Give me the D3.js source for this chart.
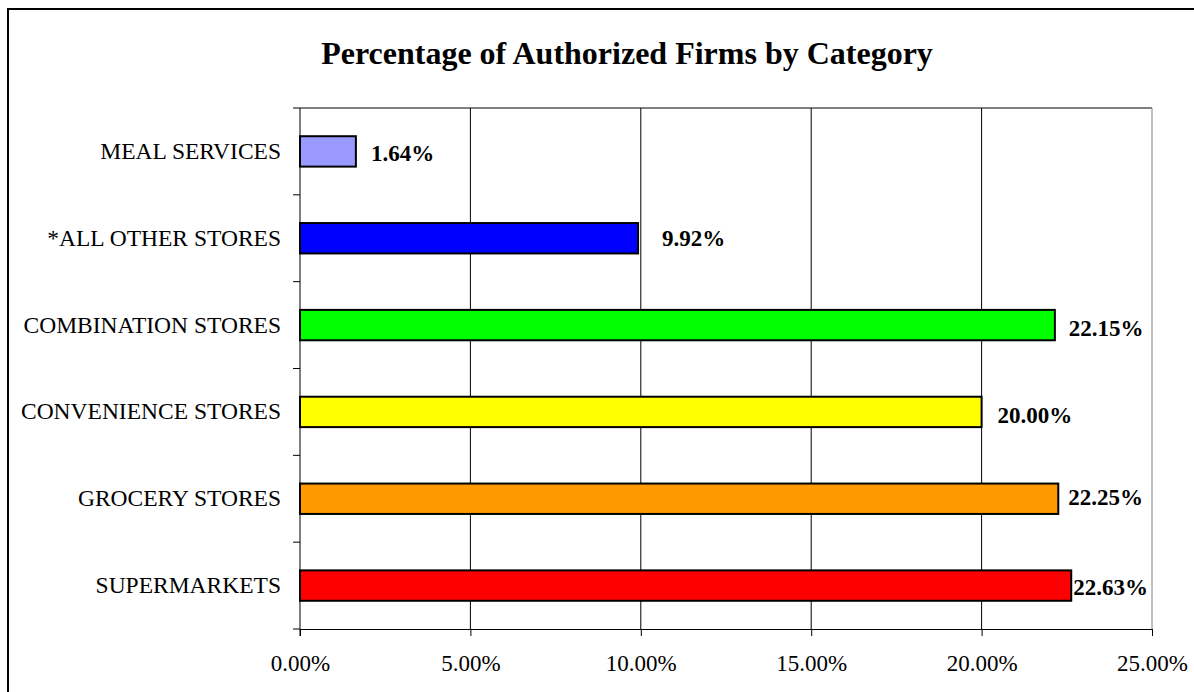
<!DOCTYPE html>
<html>
<head>
<meta charset="utf-8">
<script src="https://cdn.jsdelivr.net/npm/d3@7/dist/d3.min.js"></script>
<style>
  html, body { margin: 0; padding: 0; background: #fff; overflow: hidden; }
  svg { display: block; font-family: "Liberation Serif", "Times New Roman", serif; }
</style>
</head>
<body>
<svg id="chart" width="1194" height="692"></svg>
<script>
// Firm categories, listed top to bottom
const categories = [
  "MEAL SERVICES",
  "*ALL OTHER STORES",
  "COMBINATION STORES",
  "CONVENIENCE STORES",
  "GROCERY STORES",
  "SUPERMARKETS"
];
// Share of authorized firms, in percent
const values = [1.64, 9.92, 22.15, 20.00, 22.25, 22.63];
// Bar fill per category
const colors = ["#9999FF", "#0000FF", "#00FF00", "#FFFF00", "#FF9900", "#FF0000"];
// Value axis ticks, in percent
const xTicks = [0, 5, 10, 15, 20, 25];
// Hand-placed value label nudges (horizontal gap after bar end, vertical shift)
const labelGap = [15, 24, 14, 16, 10, 2];
const labelShift = [2.5, 0, 3, 3.5, -1, 2];

const svg = d3.select("#chart");
const serif = "Liberation Serif, Times New Roman, serif";

// Outer chart frame
svg.append("rect")
  .attr("x", 8).attr("y", 9)
  .attr("width", 1400).attr("height", 900)
  .attr("fill", "#fff")
  .attr("stroke", "#000").attr("stroke-width", 2);

// Title
svg.append("text")
  .attr("x", 627).attr("y", 64)
  .attr("text-anchor", "middle")
  .attr("font-size", 32).attr("font-weight", "bold")
  .text("Percentage of Authorized Firms by Category");

const plot = { left: 300, right: 1152, top: 108, bottom: 629 };

const x = d3.scaleLinear().domain([0, 25]).range([plot.left, plot.right]);
const yCat = d3.scaleBand().domain(categories).range([plot.top, plot.bottom]).padding(0);
const yBar = d3.scaleBand().domain(categories).range([plot.top, plot.bottom])
  .paddingInner(0.65).paddingOuter(0.325);

// Plot area border (top) and vertical gridlines
svg.append("line")
  .attr("x1", plot.left).attr("x2", plot.right)
  .attr("y1", plot.top).attr("y2", plot.top)
  .attr("stroke", "#000").attr("stroke-width", 1);
svg.append("g").selectAll("line").data(xTicks.slice(1)).join("line")
  .attr("x1", d => x(d)).attr("x2", d => x(d))
  .attr("y1", plot.top).attr("y2", plot.bottom)
  .attr("stroke", d => d === 25 ? "#808080" : "#000")
  .attr("stroke-width", 1);

// Bars
svg.append("g").selectAll("rect").data(categories).join("rect")
  .attr("x", x(0))
  .attr("y", c => yBar(c))
  .attr("width", (c, i) => x(values[i]) - x(0))
  .attr("height", yBar.bandwidth())
  .attr("fill", (c, i) => colors[i])
  .attr("stroke", "#000").attr("stroke-width", 2);

// Value labels
svg.append("g").selectAll("text").data(categories).join("text")
  .attr("x", (c, i) => x(values[i]) + labelGap[i])
  .attr("y", (c, i) => yBar(c) + yBar.bandwidth() / 2 + 7.5 + labelShift[i])
  .attr("font-size", 23).attr("font-weight", "bold")
  .text((c, i) => values[i].toFixed(2) + "%");

// Value axis
const xAxis = svg.append("g")
  .attr("transform", `translate(0,${plot.bottom})`)
  .call(d3.axisBottom(x).tickValues(xTicks).tickSize(7).tickSizeOuter(0)
    .tickFormat(d => d.toFixed(2) + "%"));
xAxis.attr("font-family", serif);
xAxis.select(".domain").attr("stroke", "#000");
xAxis.selectAll(".tick line").attr("stroke", "#000");
xAxis.selectAll(".tick text")
  .attr("y", 41.5).attr("dy", null)
  .attr("fill", "#000")
  .attr("font-size", 23)
  .attr("font-family", serif);

// Category axis: line, ticks between categories, labels
const yAxis = svg.append("g");
yAxis.append("line")
  .attr("x1", plot.left).attr("x2", plot.left)
  .attr("y1", plot.top).attr("y2", plot.bottom + 7)
  .attr("stroke", "#000");
const bounds = categories.map(c => yCat(c)).concat([plot.bottom]);
yAxis.selectAll("line.tick").data(bounds).join("line")
  .attr("class", "tick")
  .attr("x1", plot.left - 7).attr("x2", plot.left)
  .attr("y1", d => d).attr("y2", d => d)
  .attr("stroke", "#000");
yAxis.selectAll("text").data(categories).join("text")
  .attr("x", plot.left - 19)
  .attr("y", c => yCat(c) + yCat.bandwidth() / 2 + 7.5)
  .attr("text-anchor", "end")
  .attr("font-size", 23.5)
  .text(c => c);
</script>
</body>
</html>
